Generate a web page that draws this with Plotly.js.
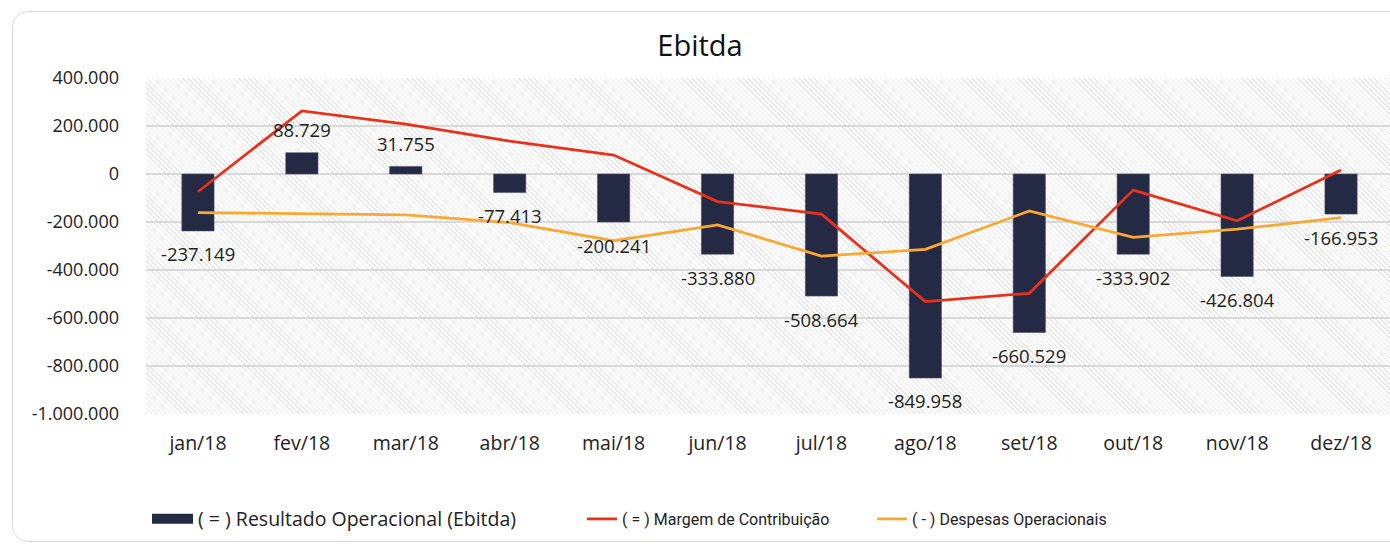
<!DOCTYPE html>
<html>
<head>
<meta charset="utf-8">
<script src="https://cdn.plot.ly/plotly-3.0.1.min.js"></script>
<style>
  html, body { margin:0; padding:0; background:#fff; overflow:hidden; width:1390px; height:548px; }
  #card { position:absolute; left:12px; top:11px; width:1420px; height:531px; border:1.5px solid #d9d9d9; border-radius:16px; box-sizing:border-box; }
  #hatch { position:absolute; left:146px; top:78px; width:1247px; height:336px;
    background: repeating-linear-gradient(45deg, #e6e6e6 0px, #e6e6e6 1px, #ffffff 1px, #ffffff 3.6px); }
  #chart { position:absolute; left:0; top:0; }
</style>
</head>
<body>
<div id="card"></div>
<div id="hatch"></div>
<div id="chart"></div>
<script>
// ---- data ----
const categories = ['jan/18','fev/18','mar/18','abr/18','mai/18','jun/18','jul/18','ago/18','set/18','out/18','nov/18','dez/18'];
const ebitda    = [-237149, 88729, 31755, -77413, -200241, -333880, -508664, -849958, -660529, -333902, -426804, -166953];
const margem    = [-74000, 263000, 208000, 137000, 79000, -115000, -167000, -532000, -497000, -67000, -195000, 17000];
const despesas  = [-161000, -166000, -170000, -203000, -278000, -212000, -342000, -314000, -154000, -264000, -230000, -182000];
const yTickVals = [400000, 200000, 0, -200000, -400000, -600000, -800000, -1000000];
const yTickText = ['400.000','200.000','0','-200.000','-400.000','-600.000','-800.000','-1.000.000'];
const seriesNames = ['( = ) Resultado Operacional (Ebitda)', '( = ) Margem de Contribuição', '( - ) Despesas Operacionais'];

const yRange = [-1000000, 400000];
const FONT = '"Open Sans", "Noto Sans", sans-serif';
const TXT = '#222222';
const BAR = '#252A44';

function fmt(v) {
  const s = Math.abs(v).toString().replace(/\B(?=(\d{3})+(?!\d))/g, '.');
  return (v < 0 ? '-' : '') + s;
}

const traces = [
  { type:'bar', x:categories, y:ebitda, name:seriesNames[0], showlegend:false,
    marker:{ color:BAR, line:{ color:'#4a4e66', width:0.6 } } },
  // legend-only entry for the bar series (wide swatch like the original)
  { type:'scatter', mode:'lines', x:[null], y:[null], name:seriesNames[0], legend:'legend',
    line:{ color:BAR, width:12 }, hoverinfo:'skip' },
  { type:'scatter', mode:'lines', x:categories, y:margem, name:seriesNames[1], legend:'legend2',
    line:{ color:'#E8321C', width:2.8 } },
  { type:'scatter', mode:'lines', x:categories, y:despesas, name:seriesNames[2], legend:'legend3',
    line:{ color:'#F9A833', width:2.8 } }
];

const annotations = ebitda.map((v, i) => ({
  x: categories[i], y: v, xref:'x', yref:'y', text: fmt(v), showarrow:false,
  yanchor:'middle', yshift: v >= 0 ? 23 : -23,
  font:{ family:FONT, size:18.5, color:TXT }
}));

const zeroPos = (0 - yRange[0]) / (yRange[1] - yRange[0]);
const W = 1393, H = 548;

const legendBase = { orientation:'h', xref:'container', yref:'container', yanchor:'middle',
  y: (H - 519) / H, bgcolor:'rgba(0,0,0,0)' };

const layout = {
  width: W, height: H,
  margin:{ l:146, r:0, t:78, b:134, pad:0 },
  paper_bgcolor:'rgba(0,0,0,0)', plot_bgcolor:'rgba(0,0,0,0)',
  font:{ family:FONT, size:18, color:TXT },
  title:{ text:'Ebitda', font:{ family:FONT, size:29, color:'#111' }, xref:'container', x: 700 / W, xanchor:'center', yref:'container', y: 1 - 46 / H, yanchor:'middle' },
  bargap: 0.69,
  xaxis:{ type:'category', categoryorder:'array', categoryarray:categories, range:[-0.5, 11.5],
    showgrid:false, zeroline:false, showline:false, ticks:'', ticklabelstandoff: 15,
    tickfont:{ family:FONT, size:19.5, color:TXT } },
  xaxis2:{ overlaying:'x', anchor:'free', position: zeroPos, type:'linear', range:[-0.5, 11.5],
    tickmode:'linear', tick0:-0.5, dtick:1, ticks:'outside', ticklen:6, tickwidth:1.5, tickcolor:'#d4d4d4',
    showticklabels:false, showgrid:false, zeroline:false, showline:true, linecolor:'#d4d4d4', linewidth:1.5, layer:'above traces' },
  xaxis3:{ overlaying:'x', anchor:'free', position: zeroPos, type:'linear', range:[-0.5, 11.5],
    tickmode:'linear', tick0:-0.5, dtick:1, ticks:'inside', ticklen:6, tickwidth:1.5, tickcolor:'#d4d4d4',
    showticklabels:false, showgrid:false, zeroline:false, showline:false, layer:'above traces' },
  yaxis:{ range:yRange, tickmode:'array', tickvals:yTickVals, ticktext:yTickText,
    showgrid:true, gridcolor:'#d9d9d9', gridwidth:1.5, zeroline:false, showline:false, ticks:'',
    ticklabelstandoff: 26, tickfont:{ family:FONT, size:18, color:TXT } },
  legend: Object.assign({}, legendBase, { x: 147 / W, itemwidth: 41, font:{ family:FONT, size:19.5, color:TXT } }),
  legend2: Object.assign({}, legendBase, { x: 582 / W, font:{ family:'Roboto, sans-serif', size:16, color:TXT } }),
  legend3: Object.assign({}, legendBase, { x: 872 / W, font:{ family:'Roboto, sans-serif', size:16, color:TXT } }),
  annotations: annotations,
  showlegend: true
};

Plotly.newPlot('chart', traces, layout, { displayModeBar:false, staticPlot:true });
</script>
</body>
</html>
